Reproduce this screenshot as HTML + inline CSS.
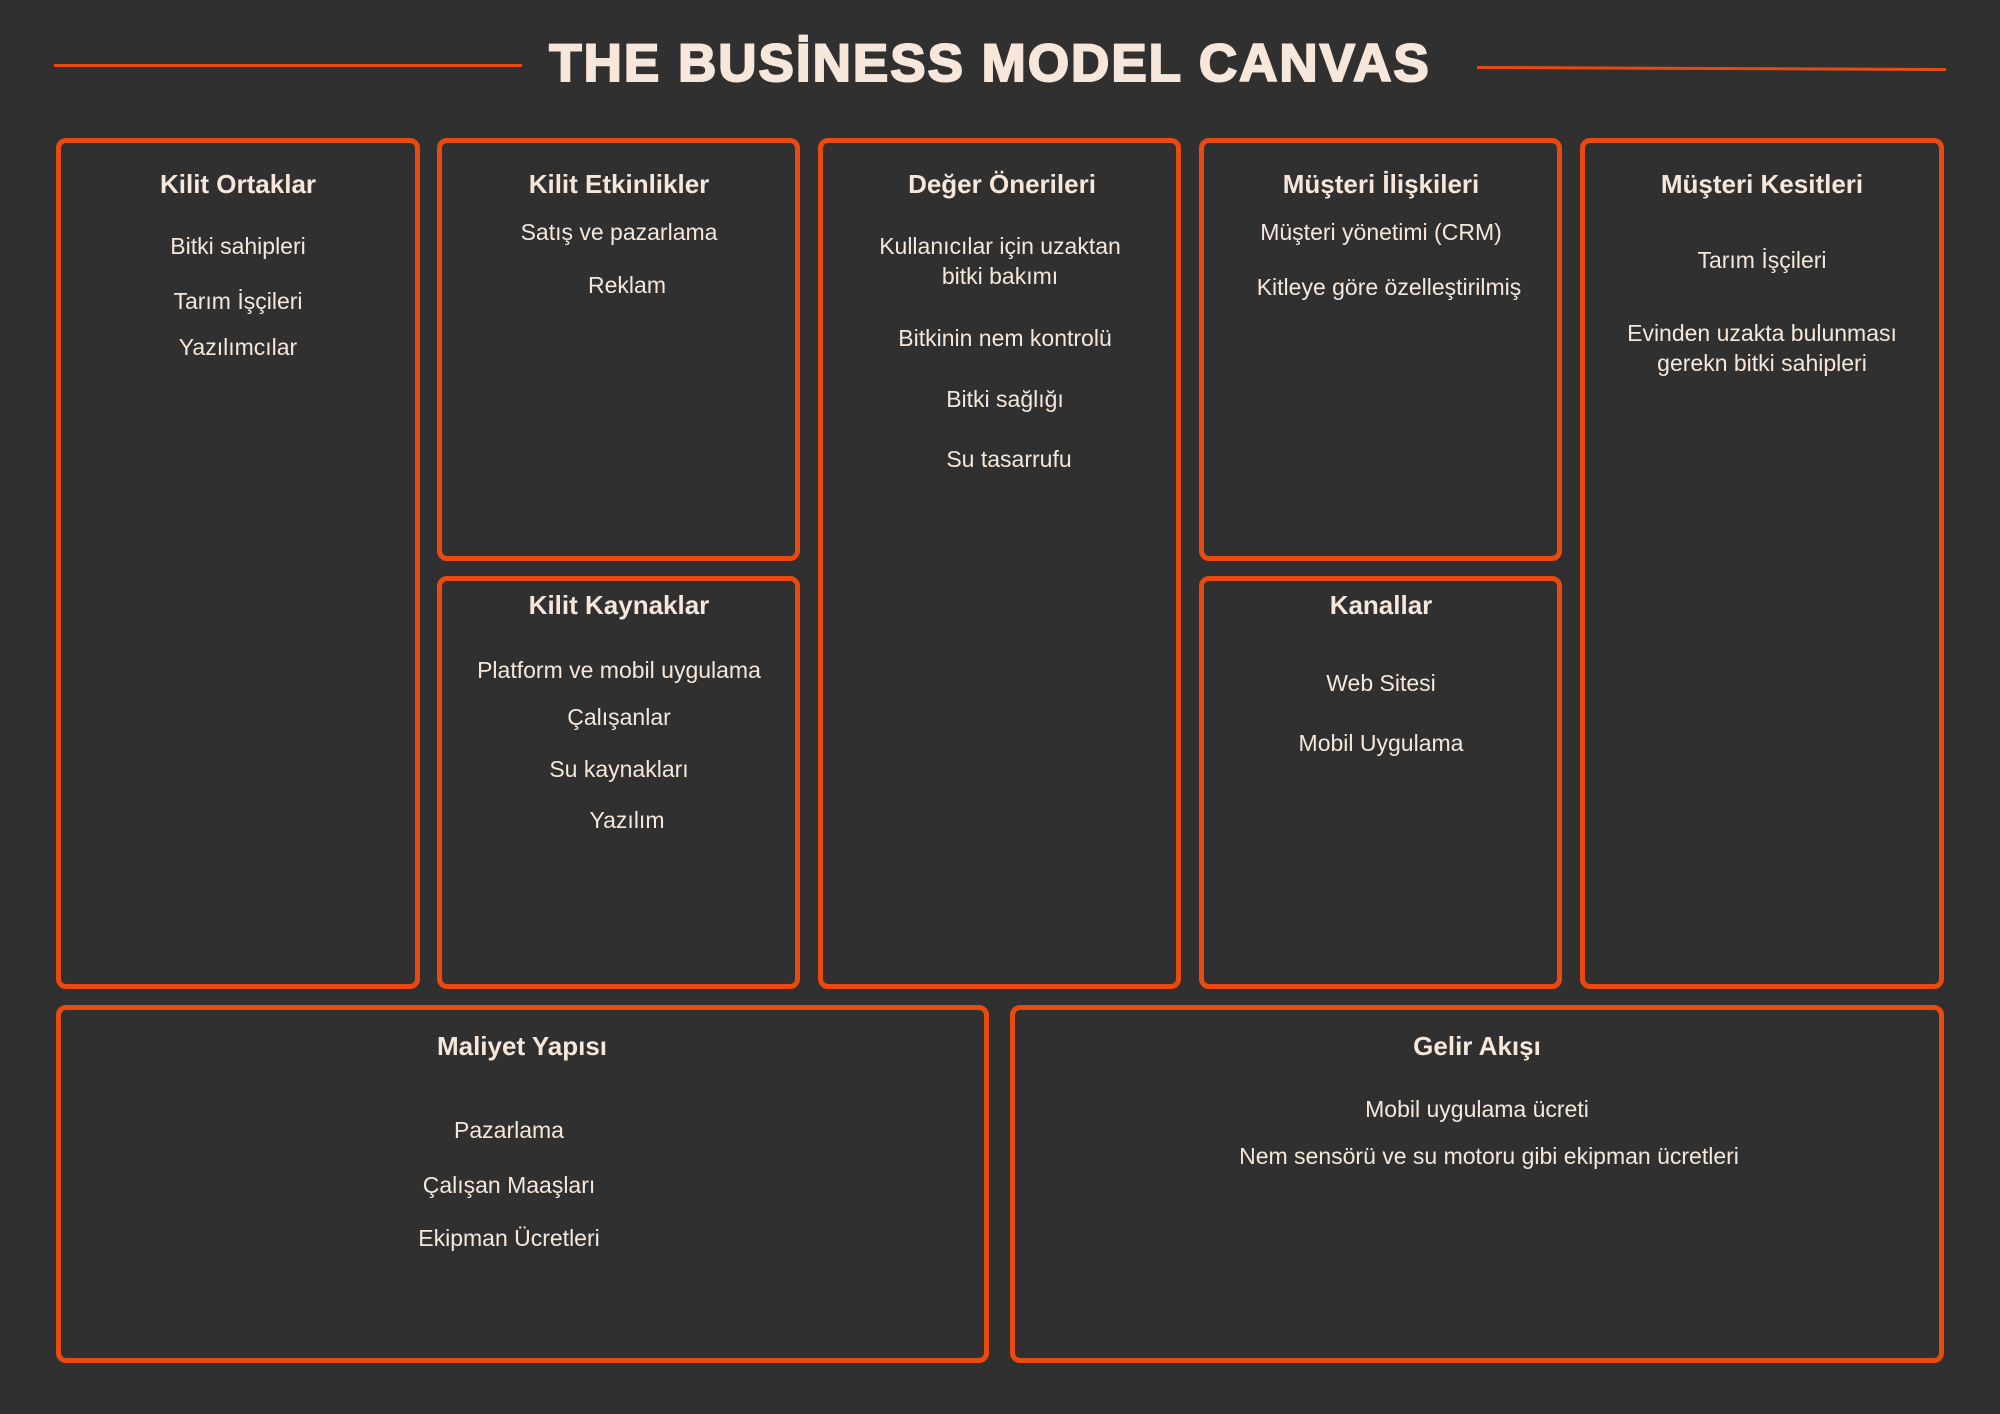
<!DOCTYPE html>
<html><head><meta charset="utf-8"><style>
html,body{margin:0;padding:0}
body{width:2000px;height:1414px;background:#303030;position:relative;overflow:hidden;font-family:"Liberation Sans","DejaVu Sans",sans-serif;color:#f6e7da}
.b{position:absolute;border:5px solid #ea4a10;border-radius:10px;box-sizing:border-box}
.t{position:absolute;width:700px;text-align:center;line-height:30px;font-size:23px;white-space:nowrap;margin-top:-1px}
.h{font-weight:bold;font-size:26px}
.ln{position:absolute;height:3px;background:#ea4a10}
.title{position:absolute;left:400px;width:1180px;top:34px;text-align:center;font-size:53px;font-weight:900;letter-spacing:2px;line-height:60px;color:#f6e7da;-webkit-text-stroke:2px #f6e7da}
</style></head><body>
<div class="ln" style="left:54px;top:64px;width:468px"></div>
<div class="ln" style="left:1477px;top:67px;width:469px;transform:rotate(0.25deg)"></div>
<div class="title">THE BUSİNESS MODEL CANVAS</div>

<div class="b" style="left:56px;top:138px;width:364px;height:851px"></div>
<div class="b" style="left:437px;top:138px;width:363px;height:423px"></div>
<div class="b" style="left:437px;top:576px;width:363px;height:413px"></div>
<div class="b" style="left:818px;top:138px;width:363px;height:851px"></div>
<div class="b" style="left:1199px;top:138px;width:363px;height:423px"></div>
<div class="b" style="left:1199px;top:576px;width:363px;height:413px"></div>
<div class="b" style="left:1580px;top:138px;width:364px;height:851px"></div>
<div class="b" style="left:56px;top:1005px;width:933px;height:358px"></div>
<div class="b" style="left:1010px;top:1005px;width:934px;height:358px"></div>

<div class="t h" style="left:-112px;top:170px">Kilit Ortaklar</div>
<div class="t" style="left:-112px;top:232px">Bitki sahipleri</div>
<div class="t" style="left:-112px;top:287px">Tarım İşçileri</div>
<div class="t" style="left:-112px;top:333px">Yazılımcılar</div>

<div class="t h" style="left:269px;top:170px">Kilit Etkinlikler</div>
<div class="t" style="left:269px;top:218px">Satış ve pazarlama</div>
<div class="t" style="left:277px;top:271px">Reklam</div>

<div class="t h" style="left:269px;top:591px">Kilit Kaynaklar</div>
<div class="t" style="left:269px;top:656px">Platform ve mobil uygulama</div>
<div class="t" style="left:269px;top:703px">Çalışanlar</div>
<div class="t" style="left:269px;top:755px">Su kaynakları</div>
<div class="t" style="left:277px;top:806px">Yazılım</div>

<div class="t h" style="left:652px;top:170px">Değer Önerileri</div>
<div class="t" style="left:650px;top:232px">Kullanıcılar için uzaktan</div>
<div class="t" style="left:650px;top:262px">bitki bakımı</div>
<div class="t" style="left:655px;top:324px">Bitkinin nem kontrolü</div>
<div class="t" style="left:655px;top:385px">Bitki sağlığı</div>
<div class="t" style="left:659px;top:445px">Su tasarrufu</div>

<div class="t h" style="left:1031px;top:170px">Müşteri İlişkileri</div>
<div class="t" style="left:1031px;top:218px">Müşteri yönetimi (CRM)</div>
<div class="t" style="left:1039px;top:273px">Kitleye göre özelleştirilmiş</div>

<div class="t h" style="left:1031px;top:591px">Kanallar</div>
<div class="t" style="left:1031px;top:669px">Web Sitesi</div>
<div class="t" style="left:1031px;top:729px">Mobil Uygulama</div>

<div class="t h" style="left:1412px;top:170px">Müşteri Kesitleri</div>
<div class="t" style="left:1412px;top:246px">Tarım İşçileri</div>
<div class="t" style="left:1412px;top:319px">Evinden uzakta bulunması</div>
<div class="t" style="left:1412px;top:349px">gerekn bitki sahipleri</div>

<div class="t h" style="left:172px;top:1032px">Maliyet Yapısı</div>
<div class="t" style="left:159px;top:1116px">Pazarlama</div>
<div class="t" style="left:159px;top:1171px">Çalışan Maaşları</div>
<div class="t" style="left:159px;top:1224px">Ekipman Ücretleri</div>

<div class="t h" style="left:1127px;top:1032px">Gelir Akışı</div>
<div class="t" style="left:1127px;top:1095px">Mobil uygulama ücreti</div>
<div class="t" style="left:1139px;top:1142px">Nem sensörü ve su motoru gibi ekipman ücretleri</div>
</body></html>
